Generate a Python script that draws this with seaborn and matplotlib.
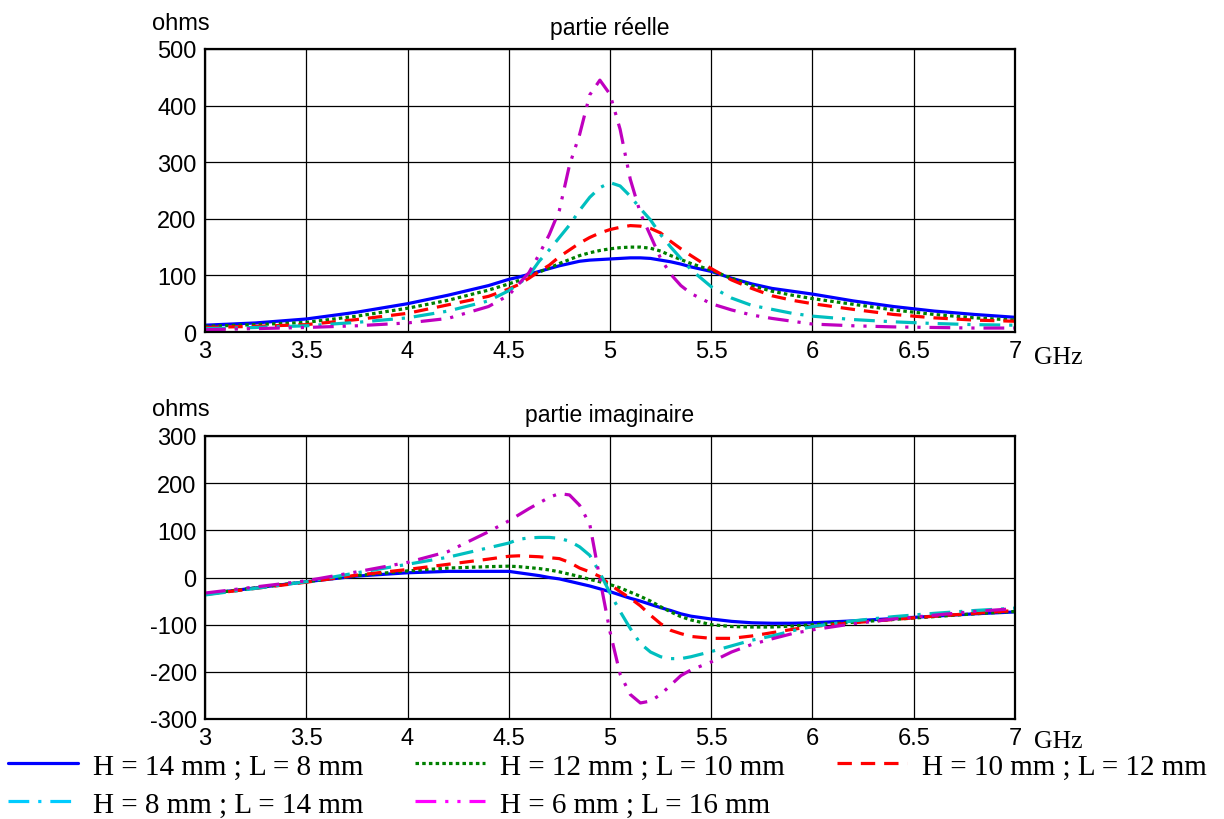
import numpy as np
import pandas as pd
import matplotlib
matplotlib.use('Agg')
import matplotlib.pyplot as plt
from matplotlib.lines import Line2D
import seaborn as sns

# frequences (GHz)
freq = [3.0, 3.25, 3.5, 3.75, 4.0, 4.2, 4.4, 4.5, 4.55, 4.6, 4.65, 4.7, 4.75, 4.8, 4.85,
        4.9, 4.95, 5.0, 5.05, 5.1, 5.15, 5.2, 5.25, 5.3, 5.35, 5.4, 5.5, 5.6, 5.7, 5.8,
        5.9, 6.0, 6.2, 6.4, 6.6, 6.8, 7.0]

labels = ['H = 14 mm ; L = 8 mm', 'H = 12 mm ; L = 10 mm', 'H = 10 mm ; L = 12 mm',
          'H = 8 mm ; L = 14 mm', 'H = 6 mm ; L = 16 mm']

# partie reelle (ohms)
re_h14 = [12, 16, 23, 35, 50, 65, 82, 93, 97, 102, 107, 112, 117, 121, 125, 127, 128, 129, 130, 131,
          131, 130, 127, 124, 120, 115, 107, 95, 85, 77, 72, 67, 55, 45, 37, 31, 26]
re_h12 = [10, 13, 17, 28, 42, 56, 74, 85, 91, 99, 106, 113, 121, 128, 135, 140, 144, 147, 149, 150,
          150, 148, 143, 135, 128, 121, 109, 95, 82, 72, 65, 59, 49, 39, 31, 25, 21]
re_h10 = [8, 10, 13, 22, 33, 48, 63, 76, 84, 95, 107, 118, 133, 145, 157, 167, 175, 181, 185, 188,
          187, 183, 175, 160, 147, 135, 112, 92, 77, 64, 56, 50, 40, 31, 25, 21, 19]
re_h8 = [6, 8, 11, 17, 25, 37, 55, 73, 85, 100, 125, 145, 167, 189, 215, 238, 255, 264, 258, 240,
         218, 198, 172, 150, 130, 110, 80, 60, 47, 40, 33, 28, 22, 18, 15, 13, 12]
re_h6 = [4, 6, 8, 11, 16, 24, 45, 65, 85, 105, 137, 172, 215, 295, 349, 419, 445, 420, 358, 270,
         210, 170, 130, 102, 82, 68, 50, 39, 30, 24, 19, 14, 11, 9, 8, 7, 7]

# partie imaginaire (ohms)
im_h14 = [-35, -22, -9, 3, 10, 13, 13, 13, 10, 7, 4, 0, -3, -8, -13, -18, -24, -30, -37, -44,
          -50, -57, -64, -70, -77, -82, -88, -93, -96, -97, -97, -96, -92, -87, -82, -77, -73]
im_h12 = [-35, -22, -9, 4, 14, 20, 23, 24, 23, 21, 19, 16, 12, 7, 2, -4, -9, -15, -22, -31,
          -40, -50, -62, -73, -83, -90, -100, -104, -105, -105, -103, -100, -95, -89, -83, -77, -72]
im_h10 = [-36, -23, -10, 5, 17, 28, 39, 45, 46, 45, 44, 42, 40, 32, 20, 12, 2, -15, -30, -44,
          -60, -80, -98, -112, -119, -125, -129, -129, -124, -117, -110, -104, -96, -89, -82, -76, -70]
im_h8 = [-37, -23, -9, 10, 28, 43, 63, 73, 81, 84, 85, 85, 83, 77, 65, 47, 10, -33, -72, -108,
         -140, -158, -168, -172, -172, -168, -157, -145, -133, -124, -113, -104, -92, -83, -76, -70, -65]
im_h6 = [-33, -20, -7, 12, 32, 55, 97, 120, 133, 146, 158, 170, 178, 175, 153, 113, -3, -115, -205, -248,
         -266, -262, -248, -228, -208, -196, -179, -158, -142, -130, -119, -111, -98, -88, -80, -72, -66]

re_series = [re_h14, re_h12, re_h10, re_h8, re_h6]
im_series = [im_h14, im_h12, im_h10, im_h8, im_h6]

rows = []
for lab, re_v, im_v in zip(labels, re_series, im_series):
    for f, r, i in zip(freq, re_v, im_v):
        rows.append({'f': f, 're': r, 'im': i, 'serie': lab})
df = pd.DataFrame(rows)

couleurs = dict(zip(labels, ['#0000ff', '#008000', '#ff0000', '#00bfbf', '#bf00bf']))
couleurs_leg = ['#0000ff', '#008000', '#ff0000', '#00ccff', '#ff00ff']
tirets = dict(zip(labels, ['', (1.1, 1.0), (4.5, 2.8), (6.5, 2.8, 1, 2.8), (6.5, 2.8, 1, 2.8, 1, 2.8)]))

sns.set_theme(style='white')
plt.rcParams['font.family'] = ['Liberation Sans', 'DejaVu Sans']
plt.rcParams['axes.unicode_minus'] = False
plt.rcParams['text.color'] = 'black'
plt.rcParams['axes.titlecolor'] = 'black'

fig = plt.figure(figsize=(12.24, 8.2), dpi=100)
ax1 = fig.add_axes([205 / 1224, 1 - 333 / 820, 810 / 1224, 283 / 820])
ax2 = fig.add_axes([205 / 1224, 1 - 720 / 820, 810 / 1224, 283 / 820])

for ax, col, titre, ylim, yt in [(ax1, 're', 'partie réelle', (0, 500), np.arange(0, 501, 100)),
                                  (ax2, 'im', 'partie imaginaire', (-300, 300), np.arange(-300, 301, 100))]:
    sns.lineplot(data=df, x='f', y=col, hue='serie', style='serie', palette=couleurs,
                 dashes=tirets, linewidth=2.3, legend=False, ax=ax)
    ax.set_xlim(3, 7)
    ax.set_ylim(*ylim)
    ax.set_xticks(np.arange(3, 7.01, 0.5))
    ax.set_xticklabels(['3', '3.5', '4', '4.5', '5', '5.5', '6', '6.5', '7'])
    ax.set_yticks(yt)
    ax.grid(True, color='black', linewidth=0.9)
    ax.set_axisbelow(True)
    for s in ax.spines.values():
        s.set_color('black')
        s.set_linewidth(1.6)
    ax.tick_params(length=0, labelsize=17, pad=6, colors='black')
    ax.set_xlabel('')
    ax.set_ylabel('')
    ax.set_title(titre, fontsize=16.5, pad=11, color='black')

fig.text(152 / 1224, 1 - 30 / 820, 'ohms', fontsize=17, va='baseline', color='black')
fig.text(152 / 1224, 1 - 416 / 820, 'ohms', fontsize=17, va='baseline', color='black')
fig.text(1034 / 1224, 1 - 364 / 820, 'GHz', fontsize=18.5, family='Liberation Serif', va='baseline')
fig.text(1034 / 1224, 1 - 748 / 820, 'GHz', fontsize=18.5, family='Liberation Serif', va='baseline')

handles = [Line2D([], [], color=c, linewidth=2.3, linestyle=(0, tirets[l]) if tirets[l] else '-')
           for l, c in zip(labels, couleurs_leg)]
ordre = [0, 3, 1, 4, 2]
leg = fig.legend([handles[i] for i in ordre], [labels[i] for i in ordre], ncol=3,
                 loc='upper left', bbox_to_anchor=(8 / 1224, 1 - 754 / 820), frameon=False,
                 prop={'family': 'Liberation Serif', 'size': 21}, borderpad=0, borderaxespad=0,
                 handlelength=2.4, handletextpad=0.5, columnspacing=1.8, labelspacing=0.4)
for t in leg.get_texts():
    t.set_color('black')

fig.savefig('out.png', dpi=100)
